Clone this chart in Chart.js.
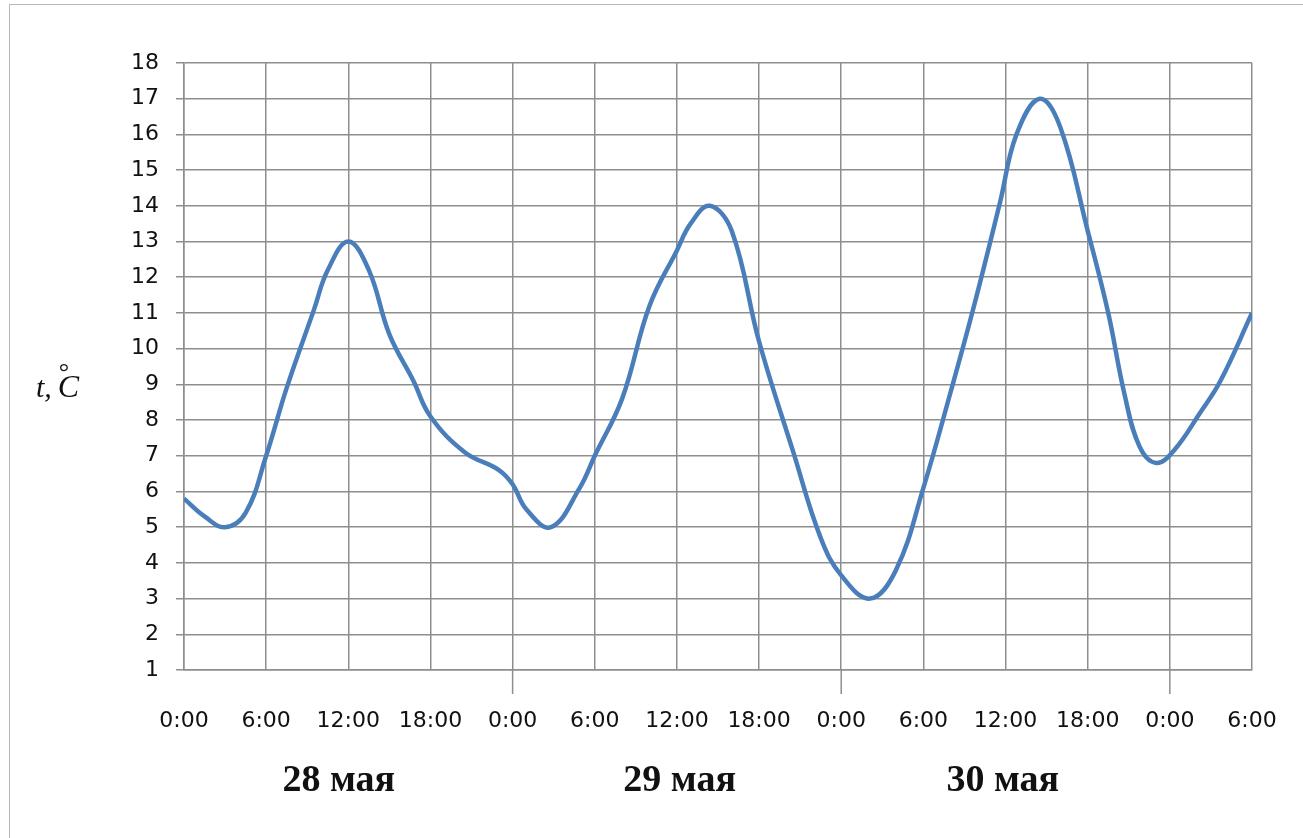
<!DOCTYPE html>
<html lang="ru">
  <head>
    <meta charset="UTF-8" />
    <meta name="viewport" content="width=device-width, initial-scale=1.0" />
    <title>Температура воздуха</title>
    <script src="https://cdn.jsdelivr.net/npm/chart.js"></script>
    <style>
      body { margin: 0; background: #fff; }
      #frame {
        position: absolute; left: 9px; top: 4px; width: 1294px; height: 834px;
        border-top: 1px solid #b8b8b8; border-left: 1px solid #b8b8b8;
      }
      #chart_div { position: absolute; left: 0; top: 0; width: 1303px; height: 838px; }
    </style>
  </head>
  <body>
    <div id="frame"></div>
    <div id="chart_div">
      <canvas id="myChart"></canvas>
    </div>

    <script>
      // hours since 0:00 on 28 May, temperature in C
      var hours = [0, 1.5, 3, 4.5, 6, 7.5, 9.5, 10.5, 12, 13.5, 15, 16.75, 18, 20.5, 23, 24, 25, 26.8,
        28.9, 30, 32, 34, 36, 37, 38.4, 40, 42, 44.5, 46.5, 48, 50.1, 52, 54, 56, 57.7, 59.6, 60.8,
        62.5, 64, 66, 67.5, 68.7, 69.8, 71, 72.3, 74.2, 75.7, 78];
      var temps = [5.8, 5.3, 5.0, 5.4, 7.0, 8.9, 11.1, 12.2, 13.0, 12.2, 10.4, 9.1, 8.1, 7.1, 6.6, 6.2, 5.5, 5.0,
        6.1, 7.0, 8.6, 11.2, 12.75, 13.5, 14.0, 13.3, 10.2, 7.1, 4.7, 3.65, 3.0, 3.8, 6.1, 8.8, 11.2, 14.1, 16.0,
        17.0, 16.2, 13.3, 11.0, 8.7, 7.25, 6.8, 7.15, 8.2, 9.1, 11.0];

      var tickLabels = ["0:00", "6:00", "12:00", "18:00", "0:00", "6:00", "12:00", "18:00",
        "0:00", "6:00", "12:00", "18:00", "0:00", "6:00"];
      var dayLabels = ["28 мая", "29 мая", "30 мая"];
      var dayLabelHours = [11.3, 36.2, 59.8];
      var dayBreaks = [24, 48, 72];

      var gridColor = "#8e8e8e";

      var extras = {
        id: "extras",
        afterDraw: function (chart) {
          var c = chart.ctx;
          var x = chart.scales.x;
          var y = chart.scales.y;
          var area = chart.chartArea;
          c.save();
          // longer ticks under the day boundaries
          c.strokeStyle = gridColor;
          c.lineWidth = 1.5;
          dayBreaks.forEach(function (h) {
            var px = x.getPixelForValue(h);
            c.beginPath();
            c.moveTo(px, area.bottom);
            c.lineTo(px, area.bottom + 24);
            c.stroke();
          });
          // axis title  t,°C
          c.fillStyle = "#111";
          c.textBaseline = "alphabetic";
          c.font = "italic 30px 'Liberation Serif'";
          var tx = area.left - 148;
          var ty = y.getPixelForValue(8.65);
          c.fillText("t,", tx, ty);
          var cx = tx + c.measureText("t,").width + 6;
          c.font = "italic 32px 'Liberation Serif'";
          c.fillText("C", cx, ty);
          c.font = "26px 'Liberation Serif'";
          c.fillText("°", cx + 1, ty - 17);
          c.restore();
        },
      };

      function noSidePadding(s) {
        s.paddingLeft = 0;
        s.paddingRight = 0;
      }

      var ctx = document.getElementById("myChart").getContext("2d");
      var myChart = new Chart(ctx, {
        type: "line",
        data: {
          datasets: [
            {
              label: "t",
              data: hours.map(function (h, i) { return { x: h, y: temps[i] }; }),
              borderColor: "#4a7ebb",
              borderWidth: 4.5,
              pointRadius: 0,
              fill: false,
              tension: 0.4,
            },
          ],
        },
        options: {
          responsive: true,
          maintainAspectRatio: false,
          animation: false,
          layout: { padding: { left: 124, right: 51, top: 63, bottom: 34 } },
          plugins: { legend: { display: false }, tooltip: { enabled: false } },
          scales: {
            x: {
              type: "linear",
              position: "bottom",
              min: 0,
              max: 78,
              afterBuildTicks: function (s) {
                s.ticks = tickLabels.map(function (t, i) { return { value: i * 6 }; });
              },
              afterFit: function (s) { s.height = 64; noSidePadding(s); },
              grid: { color: gridColor, lineWidth: 1.5, drawTicks: false },
              border: { color: gridColor, width: 1.5 },
              ticks: {
                autoSkip: false,
                maxRotation: 0,
                padding: 38,
                color: "#111",
                font: { family: "'DejaVu Sans'", size: 22 },
                callback: function (v, i) { return tickLabels[i]; },
              },
            },
            x2: {
              type: "linear",
              position: "bottom",
              min: 0,
              max: 78,
              afterBuildTicks: function (s) {
                s.ticks = dayLabelHours.map(function (h) { return { value: h }; });
              },
              afterFit: function (s) { s.height = 70; noSidePadding(s); },
              grid: { display: false },
              border: { display: false },
              ticks: {
                autoSkip: false,
                maxRotation: 0,
                padding: 16,
                color: "#111",
                font: { family: "'Liberation Serif'", size: 38, weight: "bold" },
                callback: function (v, i) { return dayLabels[i]; },
              },
            },
            y: {
              min: 1,
              max: 18,
              afterFit: function (s) { s.width = 60; },
              grid: { color: gridColor, lineWidth: 1.5, tickLength: 8 },
              border: { color: gridColor, width: 1.5 },
              ticks: {
                stepSize: 1,
                padding: 17,
                color: "#111",
                font: { family: "'DejaVu Sans'", size: 22 },
              },
            },
          },
        },
        plugins: [extras],
      });
    </script>
  </body>
</html>
